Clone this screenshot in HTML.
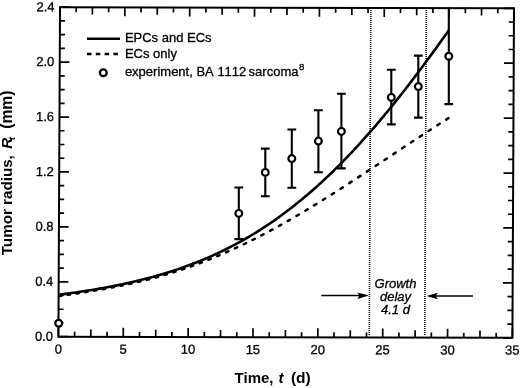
<!DOCTYPE html>
<html><head><meta charset="utf-8"><style>html,body{margin:0;padding:0;background:#fff;overflow:hidden}svg{display:block;filter:grayscale(1) blur(0.3px)} .rt{stroke:#000;stroke-width:0.3px}</style></head>
<body><svg width="520" height="388" viewBox="0 0 520 388">
<rect width="520" height="388" fill="#fff"/>
<g transform="matrix(1,0.00242,-0.00486,1,0.0350,-0.1452)">
<rect x="60.0" y="7.2" width="454.0" height="329.5" fill="none" stroke="#000" stroke-width="2"/>
<path d="M60.0,336.70h9.7M514.0,336.70h-9.7M60.0,322.97h5.1M514.0,322.97h-5.1M60.0,309.24h5.1M514.0,309.24h-5.1M60.0,295.51h5.1M514.0,295.51h-5.1M60.0,281.78h9.7M514.0,281.78h-9.7M60.0,268.05h5.1M514.0,268.05h-5.1M60.0,254.32h5.1M514.0,254.32h-5.1M60.0,240.60h5.1M514.0,240.60h-5.1M60.0,226.87h9.7M514.0,226.87h-9.7M60.0,213.14h5.1M514.0,213.14h-5.1M60.0,199.41h5.1M514.0,199.41h-5.1M60.0,185.68h5.1M514.0,185.68h-5.1M60.0,171.95h9.7M514.0,171.95h-9.7M60.0,158.22h5.1M514.0,158.22h-5.1M60.0,144.49h5.1M514.0,144.49h-5.1M60.0,130.76h5.1M514.0,130.76h-5.1M60.0,117.03h9.7M514.0,117.03h-9.7M60.0,103.30h5.1M514.0,103.30h-5.1M60.0,89.57h5.1M514.0,89.57h-5.1M60.0,75.85h5.1M514.0,75.85h-5.1M60.0,62.12h9.7M514.0,62.12h-9.7M60.0,48.39h5.1M514.0,48.39h-5.1M60.0,34.66h5.1M514.0,34.66h-5.1M60.0,20.93h5.1M514.0,20.93h-5.1M60.0,7.20h9.7M514.0,7.20h-9.7M60.00,336.7v-9.0M60.00,7.2v9.0M76.21,336.7v-5.0M76.21,7.2v5.0M92.43,336.7v-7.2M92.43,7.2v7.2M108.64,336.7v-5.0M108.64,7.2v5.0M124.86,336.7v-9.0M124.86,7.2v9.0M141.07,336.7v-5.0M141.07,7.2v5.0M157.29,336.7v-7.2M157.29,7.2v7.2M173.50,336.7v-5.0M173.50,7.2v5.0M189.71,336.7v-9.0M189.71,7.2v9.0M205.93,336.7v-5.0M205.93,7.2v5.0M222.14,336.7v-7.2M222.14,7.2v7.2M238.36,336.7v-5.0M238.36,7.2v5.0M254.57,336.7v-9.0M254.57,7.2v9.0M270.79,336.7v-5.0M270.79,7.2v5.0M287.00,336.7v-7.2M287.00,7.2v7.2M303.21,336.7v-5.0M303.21,7.2v5.0M319.43,336.7v-9.0M319.43,7.2v9.0M335.64,336.7v-5.0M335.64,7.2v5.0M351.86,336.7v-7.2M351.86,7.2v7.2M368.07,336.7v-5.0M368.07,7.2v5.0M384.29,336.7v-9.0M384.29,7.2v9.0M400.50,336.7v-5.0M400.50,7.2v5.0M416.71,336.7v-7.2M416.71,7.2v7.2M432.93,336.7v-5.0M432.93,7.2v5.0M449.14,336.7v-9.0M449.14,7.2v9.0M465.36,336.7v-5.0M465.36,7.2v5.0M481.57,336.7v-7.2M481.57,7.2v7.2M497.79,336.7v-5.0M497.79,7.2v5.0M514.00,336.7v-9.0M514.00,7.2v9.0" stroke="#000" stroke-width="1.7" fill="none"/>
<g stroke="#111" stroke-width="1.6" stroke-dasharray="1 1" fill="none">
<path d="M370.85,9.25V335.25"/><path d="M426.35,9.113V335.113"/>
</g>
<g class="rt" font-family="'Liberation Sans', sans-serif" font-size="13" text-anchor="end"><text x="54.6" y="340.70">0.0</text><text x="54.6" y="285.78">0.4</text><text x="54.6" y="230.87">0.8</text><text x="54.6" y="175.95">1.2</text><text x="54.6" y="121.03">1.6</text><text x="54.6" y="66.12">2.0</text><text x="54.6" y="11.20">2.4</text></g>
<g class="rt" font-family="'Liberation Sans', sans-serif" font-size="13" text-anchor="middle"><text x="60.00" y="353.50">0</text><text x="124.86" y="353.50">5</text><text x="189.71" y="353.50">10</text><text x="254.57" y="353.50">15</text><text x="319.43" y="353.50">20</text><text x="384.29" y="353.50">25</text><text x="449.14" y="353.50">30</text><text x="514.00" y="353.50">35</text></g>
</g>

<path d="M59.50,294.68 L61.50,294.41 L63.50,294.15 L65.50,293.88 L67.50,293.60 L69.50,293.33 L71.50,293.04 L73.50,292.76 L75.50,292.47 L77.50,292.17 L79.50,291.88 L81.50,291.57 L83.50,291.26 L85.50,290.95 L87.50,290.64 L89.50,290.31 L91.50,289.99 L93.50,289.66 L95.50,289.32 L97.50,288.98 L99.50,288.63 L101.50,288.27 L103.50,287.92 L105.50,287.55 L107.50,287.18 L109.50,286.80 L111.50,286.42 L113.50,286.03 L115.50,285.64 L117.50,285.23 L119.50,284.82 L121.50,284.41 L123.50,283.99 L125.50,283.55 L127.50,283.12 L129.50,282.67 L131.50,282.22 L133.50,281.76 L135.50,281.29 L137.50,280.82 L139.50,280.33 L141.50,279.84 L143.50,279.34 L145.50,278.83 L147.50,278.31 L149.50,277.78 L151.50,277.24 L153.50,276.70 L155.50,276.14 L157.50,275.57 L159.50,275.00 L161.50,274.41 L163.50,273.82 L165.50,273.21 L167.50,272.60 L169.50,271.97 L171.50,271.33 L173.50,270.68 L175.50,270.03 L177.50,269.36 L179.50,268.67 L181.50,267.98 L183.50,267.27 L185.50,266.56 L187.50,265.83 L189.50,265.09 L191.50,264.33 L193.50,263.57 L195.50,262.79 L197.50,262.00 L199.50,261.19 L201.50,260.37 L203.50,259.54 L205.50,258.70 L207.50,257.84 L209.50,256.97 L211.50,256.08 L213.50,255.18 L215.50,254.27 L217.50,253.34 L219.50,252.40 L221.50,251.44 L223.50,250.47 L225.50,249.48 L227.50,248.48 L229.50,247.46 L231.50,246.42 L233.50,245.38 L235.50,244.31 L237.50,243.23 L239.50,242.14 L241.50,241.02 L243.50,239.90 L245.50,238.75 L247.50,237.59 L249.50,236.41 L251.50,235.22 L253.50,234.01 L255.50,232.78 L257.50,231.54 L259.50,230.28 L261.50,229.00 L263.50,227.70 L265.50,226.39 L267.50,225.06 L269.50,223.71 L271.50,222.34 L273.50,220.96 L275.50,219.56 L277.50,218.14 L279.50,216.70 L281.50,215.24 L283.50,213.77 L285.50,212.28 L287.50,210.77 L289.50,209.24 L291.50,207.69 L293.50,206.12 L295.50,204.54 L297.50,202.94 L299.50,201.31 L301.50,199.67 L303.50,198.01 L305.50,196.34 L307.50,194.64 L309.50,192.92 L311.50,191.19 L313.50,189.43 L315.50,187.66 L317.50,185.87 L319.50,184.06 L321.50,182.23 L323.50,180.38 L325.50,178.52 L327.50,176.63 L329.50,174.72 L331.50,172.80 L333.50,170.86 L335.50,168.90 L337.50,166.91 L339.50,164.92 L341.50,162.90 L343.50,160.86 L345.50,158.81 L347.50,156.73 L349.50,154.64 L351.50,152.53 L353.50,150.40 L355.50,148.25 L357.50,146.08 L359.50,143.90 L361.50,141.70 L363.50,139.48 L365.50,137.24 L367.50,134.98 L369.50,132.71 L371.50,130.42 L373.50,128.11 L375.50,125.79 L377.50,123.44 L379.50,121.08 L381.50,118.71 L383.50,116.31 L385.50,113.90 L387.50,111.48 L389.50,109.03 L391.50,106.58 L393.50,104.10 L395.50,101.61 L397.50,99.11 L399.50,96.59 L401.50,94.05 L403.50,91.50 L405.50,88.94 L407.50,86.36 L409.50,83.76 L411.50,81.16 L413.50,78.53 L415.50,75.90 L417.50,73.25 L419.50,70.59 L421.50,67.92 L423.50,65.24 L425.50,62.54 L427.50,59.83 L429.50,57.11 L431.50,54.38 L433.50,51.64 L435.50,48.89 L437.50,46.13 L439.50,43.36 L441.50,40.57 L443.50,37.78 L445.50,34.99 L447.50,32.18 L448.80,30.35" fill="none" stroke="#000" stroke-width="2.6"/>
<path d="M59.50,296.10L59.77,296.06L60.04,296.02L60.31,295.98L60.58,295.94L60.85,295.90L61.12,295.86M67.63,294.87L68.01,294.81L68.39,294.76L68.78,294.70L69.16,294.64L69.54,294.58L69.93,294.52M76.43,293.53L76.81,293.47L77.20,293.41L77.58,293.35L77.96,293.29L78.35,293.23L78.73,293.17M85.23,292.15L85.62,292.08L86.00,292.02L86.38,291.96L86.77,291.90L87.15,291.84L87.53,291.78M94.03,290.71L94.42,290.64L94.80,290.58L95.18,290.51L95.57,290.45L95.95,290.38L96.33,290.32M102.84,289.19L103.22,289.12L103.60,289.05L103.99,288.99L104.37,288.92L104.75,288.85L105.14,288.78M111.64,287.58L112.02,287.50L112.41,287.43L112.79,287.36L113.17,287.28L113.56,287.21L113.94,287.13M120.44,285.85L120.83,285.77L121.21,285.69L121.59,285.61L121.98,285.53L122.36,285.45L122.74,285.37M129.25,283.99L129.63,283.90L130.01,283.82L130.40,283.73L130.78,283.65L131.16,283.56L131.55,283.48M138.05,281.98L138.43,281.89L138.82,281.80L139.20,281.71L139.58,281.62L139.97,281.53L140.35,281.43M146.85,279.83L147.24,279.73L147.62,279.63L148.00,279.53L148.39,279.43L148.77,279.33L149.15,279.24M155.66,277.50L156.04,277.40L156.42,277.29L156.81,277.19L157.19,277.08L157.57,276.98L157.96,276.87M164.46,275.01L164.84,274.90L165.23,274.79L165.61,274.67L165.99,274.56L166.38,274.45L166.76,274.33M173.26,272.34L173.65,272.22L174.03,272.10L174.41,271.98L174.80,271.86L175.18,271.74L175.56,271.61M182.06,269.49L182.45,269.36L182.83,269.23L183.21,269.10L183.60,268.97L183.98,268.84L184.36,268.71M190.87,266.45L191.25,266.31L191.63,266.17L192.02,266.04L192.40,265.90L192.78,265.76L193.17,265.62M199.67,263.22L200.05,263.07L200.44,262.93L200.82,262.78L201.20,262.64L201.59,262.49L201.97,262.34M208.47,259.80L208.86,259.65L209.24,259.49L209.62,259.34L210.01,259.19L210.39,259.03L210.77,258.88M217.28,256.19L217.66,256.03L218.04,255.87L218.43,255.71L218.81,255.55L219.19,255.38L219.58,255.22M226.08,252.40L226.46,252.23L226.85,252.06L227.23,251.89L227.61,251.72L228.00,251.55L228.38,251.38M234.88,248.43L235.27,248.25L235.65,248.07L236.03,247.89L236.42,247.72L236.80,247.54L237.18,247.36M243.69,244.27L244.07,244.09L244.45,243.90L244.84,243.72L245.22,243.53L245.60,243.35L245.99,243.16M252.49,239.94L252.87,239.75L253.26,239.56L253.64,239.37L254.02,239.17L254.41,238.98L254.79,238.79M261.29,235.45L261.68,235.25L262.06,235.05L262.44,234.85L262.83,234.65L263.21,234.45L263.59,234.25M270.10,230.79L270.48,230.58L270.86,230.38L271.25,230.17L271.63,229.96L272.01,229.76L272.39,229.55M278.90,225.98L279.28,225.77L279.66,225.56L280.05,225.34L280.43,225.13L280.81,224.91L281.20,224.70M287.70,221.03L288.08,220.81L288.47,220.59L288.85,220.37L289.23,220.15L289.62,219.93L290.00,219.71M296.50,215.94L296.89,215.71L297.27,215.49L297.65,215.26L298.04,215.04L298.42,214.81L298.80,214.59M305.31,210.72L305.69,210.49L306.07,210.26L306.46,210.03L306.84,209.80L307.22,209.57L307.61,209.34M314.11,205.39L314.49,205.16L314.88,204.92L315.26,204.69L315.64,204.45L316.03,204.22L316.41,203.98M322.91,199.96L323.30,199.72L323.68,199.48L324.06,199.24L324.45,199.00L324.83,198.76L325.21,198.52M331.72,194.43L332.10,194.18L332.48,193.94L332.87,193.70L333.25,193.46L333.63,193.21L334.02,192.97M340.52,188.82L340.90,188.57L341.29,188.33L341.67,188.08L342.05,187.83L342.44,187.59L342.82,187.34M349.32,183.14L349.71,182.89L350.09,182.64L350.47,182.39L350.86,182.15L351.24,181.90L351.62,181.65M358.12,177.41L358.51,177.15L358.89,176.90L359.27,176.65L359.66,176.40L360.04,176.15L360.42,175.90M366.93,171.63L367.31,171.37L367.69,171.12L368.08,170.87L368.46,170.62L368.84,170.36L369.23,170.11M375.73,165.81L376.11,165.56L376.50,165.31L376.88,165.05L377.26,164.80L377.65,164.55L378.03,164.29M384.53,159.98L384.92,159.73L385.30,159.47L385.68,159.22L386.07,158.97L386.45,158.71L386.83,158.46M393.34,154.14L393.72,153.89L394.10,153.63L394.49,153.38L394.87,153.13L395.25,152.87L395.64,152.62M402.14,148.31L402.52,148.06L402.91,147.80L403.29,147.55L403.67,147.30L404.06,147.04L404.44,146.79M410.94,142.49L411.33,142.24L411.71,141.99L412.09,141.74L412.48,141.48L412.86,141.23L413.24,140.98M419.75,136.71L420.13,136.46L420.51,136.20L420.90,135.95L421.28,135.70L421.66,135.45L422.05,135.20M428.55,130.96L428.93,130.71L429.32,130.46L429.70,130.21L430.08,129.97L430.47,129.72L430.85,129.47M437.35,125.27L437.74,125.02L438.12,124.77L438.50,124.53L438.89,124.28L439.27,124.04L439.65,123.79M446.16,119.64L446.54,119.39L446.92,119.15L447.31,118.91L447.69,118.66L448.07,118.42L448.45,118.18" fill="none" stroke="#000" stroke-width="2.5" stroke-linecap="round"/>
<path d="M238.8,187.5V239.1M234.4,187.5h8.8M234.4,239.1h8.8M265.3,148.6V196.3M260.90000000000003,148.6h8.8M260.90000000000003,196.3h8.8M291.8,129.5V187.8M287.40000000000003,129.5h8.8M287.40000000000003,187.8h8.8M318.4,110.2V172.2M314.0,110.2h8.8M314.0,172.2h8.8M341.4,93.7V168.4M337.0,93.7h8.8M337.0,168.4h8.8M391.3,69.8V124.4M386.90000000000003,69.8h8.8M386.90000000000003,124.4h8.8M418.3,55.6V117.6M413.90000000000003,55.6h8.8M413.90000000000003,117.6h8.8M448.8,7.5V104.1M444.40000000000003,104.1h8.8" stroke="#000" stroke-width="2.1" fill="none"/>
<g fill="#fff" stroke="#000" stroke-width="2.2"><circle cx="238.8" cy="213.4" r="3.4"/><circle cx="265.3" cy="172.4" r="3.4"/><circle cx="291.8" cy="158.6" r="3.4"/><circle cx="318.4" cy="141.1" r="3.4"/><circle cx="341.4" cy="131.4" r="3.4"/><circle cx="391.3" cy="97.4" r="3.4"/><circle cx="418.3" cy="86.6" r="3.4"/><circle cx="448.8" cy="56.3" r="3.4"/><circle cx="58.7" cy="323.2" r="3.4"/></g>
<!-- legend -->
<path d="M87,38.65H120" stroke="#000" stroke-width="2.5"/>
<path d="M87,53.95H119" stroke="#000" stroke-width="2.4" stroke-dasharray="4.5 4.3"/>
<circle cx="103.3" cy="72.8" r="3.4" fill="#fff" stroke="#000" stroke-width="2.3"/>
<g class="rt" font-family="'Liberation Sans', sans-serif" font-size="13">
<text x="124.9" y="42.1">EPCs and ECs</text>
<text x="124.9" y="57.7">ECs only</text>
<text x="124.9" y="76.2" style="font-kerning:none">experiment, BA 1112<tspan dx="-1.3"> sarcoma</tspan><tspan font-size="9.6" dy="-6.4" dx="0.5">8</tspan></text>
</g>
<!-- growth delay -->
<g class="rt" font-family="'Liberation Sans', sans-serif" font-size="13" font-style="italic" text-anchor="middle">
<text x="395.5" y="287.6">Growth</text>
<text x="395.5" y="300.9">delay</text>
<text x="395.5" y="313.9">4.1 d</text>
</g>
<path d="M321.3,295.5H360" stroke="#000" stroke-width="1.5"/>
<path d="M368.9,295.6L357.4,292.5L359.4,295.6L357.4,298.9Z" fill="#000"/>
<path d="M436,296H473" stroke="#000" stroke-width="1.5"/>
<path d="M426.5,296L437.8,292.8L435.8,296L437.8,299.3Z" fill="#000"/>
<!-- axis titles -->
<g font-family="'Liberation Sans', sans-serif" font-size="15" font-weight="bold">
<text x="234.6" y="382.9">Time,</text>
<text x="278.6" y="382.9" font-style="italic">t</text>
<text x="290.9" y="382.9" font-size="15.5">(d)</text>
<g transform="translate(12.1,0) rotate(-90)" font-size="15.2">
<text x="-255.3" y="0">Tumor radius,</text>
<text x="-148.7" y="0" font-style="italic">R</text>
<text x="-140.0" y="3.2" font-size="9" font-style="italic">t</text>
<text x="-128.8" y="0" font-size="15.6">(mm)</text>
</g>
</g>
</svg></body></html>
